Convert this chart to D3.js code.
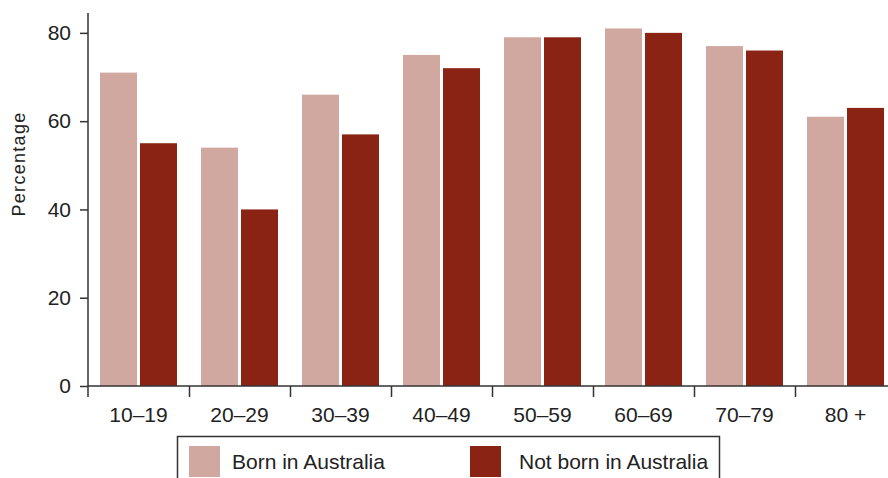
<!DOCTYPE html>
<html>
<head>
<meta charset="utf-8">
<script src="https://cdn.jsdelivr.net/npm/d3@7/dist/d3.min.js"></script>
<style>
  html, body { margin: 0; padding: 0; background: #fff; }
  svg { display: block; font-family: "Liberation Sans", Arial, sans-serif; }
</style>
</head>
<body>
<svg id="chart" width="888" height="478"></svg>
<script>
const categories = ["10–19", "20–29", "30–39", "40–49", "50–59", "60–69", "70–79", "80 +"];
const seriesNames = ["Born in Australia", "Not born in Australia"];
const bornInAustralia = [71, 54, 66, 75, 79, 81, 77, 61];
const notBornInAustralia = [55, 40, 57, 72, 79, 80, 76, 63];
const yTicks = [0, 20, 40, 60, 80];
const colors = ["#d1a8a0", "#8a2314"];

const svg = d3.select("#chart");
const axisColor = "#333";
const textColor = "#222";

const x0 = d3.scaleBand().domain(categories).range([88, 896]).paddingInner(0).paddingOuter(0);
const x1 = d3.scaleBand().domain(seriesNames).range([12, 89]).paddingInner(0.075).paddingOuter(0);
const y = d3.scaleLinear().domain([0, 84.5]).range([386, 13]);
const color = d3.scaleOrdinal().domain(seriesNames).range(colors);

const rows = categories.map((c, i) => ({
  cat: c,
  vals: [
    { key: seriesNames[0], v: bornInAustralia[i] },
    { key: seriesNames[1], v: notBornInAustralia[i] }
  ]
}));

// bars
svg.append("g").selectAll("g").data(rows).join("g")
  .attr("transform", d => `translate(${x0(d.cat)},0)`)
  .selectAll("rect").data(d => d.vals).join("rect")
  .attr("x", d => x1(d.key))
  .attr("width", x1.bandwidth())
  .attr("y", d => y(d.v))
  .attr("height", d => y(0) - y(d.v))
  .attr("fill", d => color(d.key));

// y axis
const yAxis = svg.append("g").attr("transform", "translate(88,0)")
  .call(d3.axisLeft(y).tickValues(yTicks).tickSize(8).tickPadding(9).tickFormat(d3.format("d")));
yAxis.select(".domain").attr("d", `M0,${y(84.5)}V397`).attr("stroke", axisColor).attr("stroke-width", 1.5);
yAxis.selectAll(".tick line").attr("stroke", axisColor).attr("stroke-width", 1.5);
yAxis.selectAll(".tick text").attr("fill", textColor).style("font-size", "21px");

// x axis: boundary ticks
const xb = d3.scaleLinear().domain([0, categories.length]).range([88, 896]);
const xAxis = svg.append("g").attr("transform", `translate(0,${y(0)})`)
  .call(d3.axisBottom(xb).tickValues(d3.range(1, categories.length + 1)).tickSize(11).tickFormat(""));
xAxis.select(".domain").attr("d", `M88,0H896`).attr("stroke", axisColor).attr("stroke-width", 1.5);
xAxis.selectAll(".tick line").attr("stroke", axisColor).attr("stroke-width", 1.5);

// x labels
const xLab = svg.append("g").attr("transform", `translate(0,${y(0)})`)
  .call(d3.axisBottom(x0).tickSize(0).tickPadding(21));
xLab.select(".domain").remove();
xLab.selectAll(".tick text").attr("fill", textColor).style("font-size", "21px");

// y label
svg.append("text")
  .attr("transform", "translate(25,164) rotate(-90)")
  .attr("text-anchor", "middle")
  .attr("fill", textColor)
  .style("font-size", "18px")
  .style("letter-spacing", "1.3px")
  .text("Percentage");

// legend
const legend = svg.append("g");
legend.append("rect")
  .attr("x", 177.5).attr("y", 436.5).attr("width", 542).attr("height", 60)
  .attr("fill", "none").attr("stroke", axisColor).attr("stroke-width", 1.5);
const legendX = [189, 470];
const legendTextX = [232, 519];
seriesNames.forEach((s, i) => {
  legend.append("rect")
    .attr("x", legendX[i]).attr("y", 446).attr("width", 31).attr("height", 31)
    .attr("fill", color(s));
  legend.append("text")
    .attr("x", legendTextX[i]).attr("y", 469)
    .attr("fill", textColor)
    .style("font-size", "21px")
    .text(s);
});
</script>
</body>
</html>
